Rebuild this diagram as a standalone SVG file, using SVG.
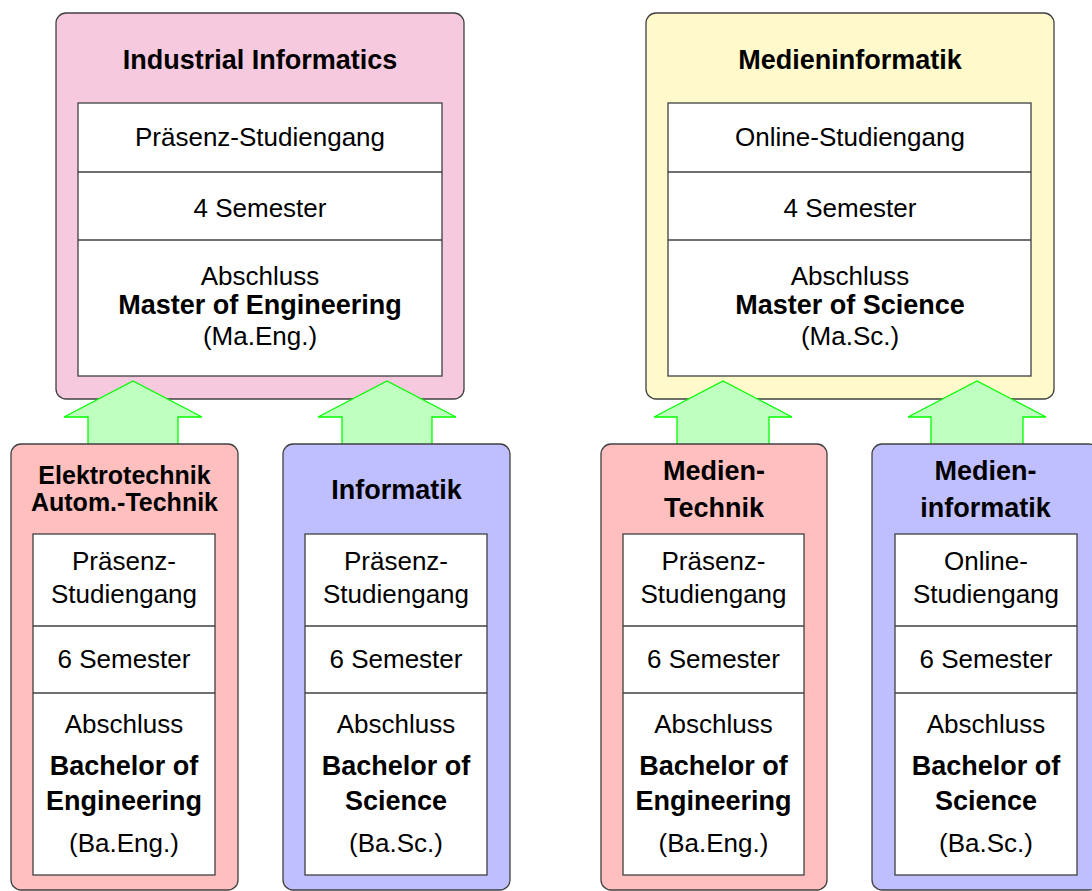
<svg xmlns="http://www.w3.org/2000/svg" width="1092" height="891" viewBox="0 0 1092 891">
  <style>
    .frame { stroke: #404040; stroke-width: 1.3; }
    .pink { fill: #f7c9de; }
    .yellow { fill: #fff9cc; }
    .red { fill: #ffbfbf; }
    .blue { fill: #bfbfff; }
    .cell { fill: #ffffff; stroke: #404040; stroke-width: 1.3; }
    .sep { stroke: #404040; stroke-width: 1.3; }
    .arrow { fill: #bfffbf; stroke: #00ff00; stroke-width: 1.3; stroke-linejoin: miter; }
    text { font-family: "Liberation Sans", Arial, sans-serif; fill: #000000; text-anchor: middle; }
    .t { font-size: 26px; }
    .b { font-size: 27px; font-weight: bold; }
    .bs { font-size: 25px; font-weight: bold; }
  </style>

  <!-- Master programmes -->
  <g id="master-industrial-informatics">
    <rect class="frame pink" x="56" y="13" width="408" height="386" rx="10"/>
    <text class="b" x="260" y="69">Industrial Informatics</text>
    <rect class="cell" x="78" y="103" width="364" height="273"/>
    <line class="sep" x1="78" y1="172" x2="442" y2="172"/>
    <line class="sep" x1="78" y1="240" x2="442" y2="240"/>
    <text class="t" x="260" y="146">Präsenz-Studiengang</text>
    <text class="t" x="260" y="217">4 Semester</text>
    <text class="t" x="260" y="285">Abschluss</text>
    <text class="b" x="260" y="314">Master of Engineering</text>
    <text class="t" x="260" y="345">(Ma.Eng.)</text>
  </g>

  <g id="master-medieninformatik">
    <rect class="frame yellow" x="646" y="13" width="408" height="386" rx="10"/>
    <text class="b" x="850" y="69">Medieninformatik</text>
    <rect class="cell" x="668" y="103" width="363" height="273"/>
    <line class="sep" x1="668" y1="172" x2="1031" y2="172"/>
    <line class="sep" x1="668" y1="240" x2="1031" y2="240"/>
    <text class="t" x="850" y="146">Online-Studiengang</text>
    <text class="t" x="850" y="217">4 Semester</text>
    <text class="t" x="850" y="285">Abschluss</text>
    <text class="b" x="850" y="314">Master of Science</text>
    <text class="t" x="850" y="345">(Ma.Sc.)</text>
  </g>

  <!-- Upward arrows from bachelor to master -->
  <g id="connectors">
    <polygon class="arrow" points="88,445 88,417 64,417 133,381 202,417 178,417 178,445"/>
    <polygon class="arrow" points="342,445 342,417 318,417 387,381 456,417 432,417 432,445"/>
    <polygon class="arrow" points="677,445 677,417 654,417 723,381 792,417 769,417 769,445"/>
    <polygon class="arrow" points="931,445 931,417 908,417 977,381 1046,417 1023,417 1023,445"/>
  </g>

  <!-- Bachelor programmes -->
  <g id="bachelor-elektrotechnik">
    <rect class="frame red" x="11" y="444" width="227" height="446" rx="10"/>
    <text class="bs" x="124.5" y="484">Elektrotechnik</text>
    <text class="bs" x="124.5" y="511">Autom.-Technik</text>
    <rect class="cell" x="33" y="534" width="182" height="341"/>
    <line class="sep" x1="33" y1="626" x2="215" y2="626"/>
    <line class="sep" x1="33" y1="693" x2="215" y2="693"/>
    <text class="t" x="124" y="570">Präsenz-</text>
    <text class="t" x="124" y="603">Studiengang</text>
    <text class="t" x="124" y="668">6 Semester</text>
    <text class="t" x="124" y="733">Abschluss</text>
    <text class="b" x="124" y="775">Bachelor of</text>
    <text class="b" x="124" y="810">Engineering</text>
    <text class="t" x="124" y="852">(Ba.Eng.)</text>
  </g>

  <g id="bachelor-informatik">
    <rect class="frame blue" x="283" y="444" width="227" height="446" rx="10"/>
    <text class="b" x="396.5" y="499">Informatik</text>
    <rect class="cell" x="305" y="534" width="182" height="341"/>
    <line class="sep" x1="305" y1="626" x2="487" y2="626"/>
    <line class="sep" x1="305" y1="693" x2="487" y2="693"/>
    <text class="t" x="396" y="570">Präsenz-</text>
    <text class="t" x="396" y="603">Studiengang</text>
    <text class="t" x="396" y="668">6 Semester</text>
    <text class="t" x="396" y="733">Abschluss</text>
    <text class="b" x="396" y="775">Bachelor of</text>
    <text class="b" x="396" y="810">Science</text>
    <text class="t" x="396" y="852">(Ba.Sc.)</text>
  </g>

  <g id="bachelor-medientechnik">
    <rect class="frame red" x="601" y="444" width="226" height="446" rx="10"/>
    <text class="b" x="714" y="480">Medien-</text>
    <text class="b" x="714" y="517">Technik</text>
    <rect class="cell" x="623" y="534" width="181" height="341"/>
    <line class="sep" x1="623" y1="626" x2="804" y2="626"/>
    <line class="sep" x1="623" y1="693" x2="804" y2="693"/>
    <text class="t" x="713.5" y="570">Präsenz-</text>
    <text class="t" x="713.5" y="603">Studiengang</text>
    <text class="t" x="713.5" y="668">6 Semester</text>
    <text class="t" x="713.5" y="733">Abschluss</text>
    <text class="b" x="713.5" y="775">Bachelor of</text>
    <text class="b" x="713.5" y="810">Engineering</text>
    <text class="t" x="713.5" y="852">(Ba.Eng.)</text>
  </g>

  <g id="bachelor-medieninformatik">
    <rect class="frame blue" x="872" y="444" width="227" height="446" rx="10"/>
    <text class="b" x="985.5" y="480">Medien-</text>
    <text class="b" x="985.5" y="517">informatik</text>
    <rect class="cell" x="895" y="534" width="182" height="341"/>
    <line class="sep" x1="895" y1="626" x2="1077" y2="626"/>
    <line class="sep" x1="895" y1="693" x2="1077" y2="693"/>
    <text class="t" x="986" y="570">Online-</text>
    <text class="t" x="986" y="603">Studiengang</text>
    <text class="t" x="986" y="668">6 Semester</text>
    <text class="t" x="986" y="733">Abschluss</text>
    <text class="b" x="986" y="775">Bachelor of</text>
    <text class="b" x="986" y="810">Science</text>
    <text class="t" x="986" y="852">(Ba.Sc.)</text>
  </g>
</svg>
